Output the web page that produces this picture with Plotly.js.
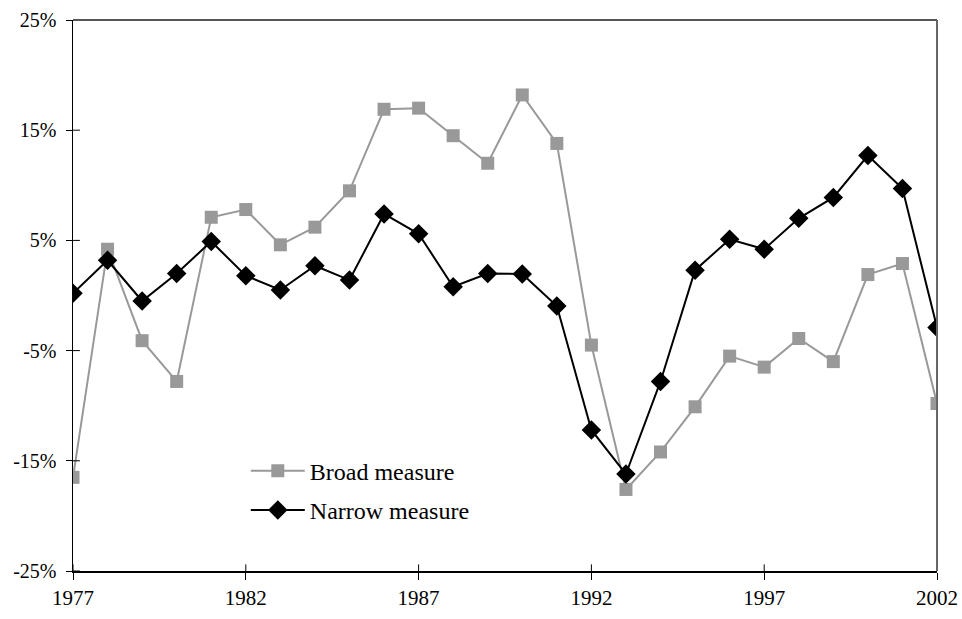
<!DOCTYPE html>
<html>
<head>
<meta charset="utf-8">
<script src="https://cdn.plot.ly/plotly-3.0.1.min.js"></script>
<style>html,body{margin:0;padding:0;background:#fff;}#chart{width:962px;height:619px;}</style>
</head>
<body>
<div id="chart"></div>
<script>
var years = [1977,1978,1979,1980,1981,1982,1983,1984,1985,1986,1987,1988,1989,1990,1991,1992,1993,1994,1995,1996,1997,1998,1999,2000,2001,2002];
var broadMeasure = [-16.5,4.2,-4.1,-7.8,7.1,7.8,4.6,6.2,9.5,16.9,17.0,14.5,12.0,18.2,13.8,-4.5,-17.6,-14.2,-10.1,-5.5,-6.5,-3.9,-6.0,1.9,2.9,-9.8];
var narrowMeasure = [0.2,3.2,-0.5,2.0,4.9,1.8,0.5,2.7,1.4,7.4,5.6,0.8,2.0,1.95,-0.95,-12.2,-16.2,-7.8,2.3,5.1,4.2,7.0,8.9,12.7,9.7,-2.9];
var yTickVals = [-25,-15,-5,5,15,25];
var yTickText = ['-25%','-15%','-5%','5%','15%','25%'];
var xTickVals = [1977,1982,1987,1992,1997,2002];

var serif = 'Liberation Serif, Times New Roman, serif';

var traces = [
  {x: years, y: broadMeasure, name: 'Broad measure', type: 'scatter', mode: 'lines+markers',
   legendgroup: 'a',
   line: {color: '#999999', width: 2}, marker: {symbol: 'square', size: 13, color: '#999999'}},
  {x: years, y: narrowMeasure, name: 'Narrow measure', type: 'scatter', mode: 'lines+markers',
   legendgroup: 'b',
   line: {color: '#000000', width: 2}, marker: {symbol: 'diamond', size: 15, color: '#000000'}}
];

// inner halves of the crossing tick marks, placed on the axis scales
var shapes = [];
xTickVals.forEach(function (v) {
  shapes.push({type: 'line', xref: 'x', yref: 'paper', x0: v, x1: v, y0: 0, y1: 0.012,
               line: {color: '#000', width: 1}});
});
yTickVals.forEach(function (v) {
  shapes.push({type: 'line', xref: 'paper', yref: 'y', x0: 0, x1: 0.008, y0: v, y1: v,
               line: {color: '#000', width: 1}});
});
shapes.push({type: 'line', xref: 'paper', yref: 'paper', x0: 0, x1: 1, y0: 1, y1: 1, line: {color: '#555', width: 2}});
shapes.push({type: 'line', xref: 'paper', yref: 'paper', x0: 1, x1: 1, y0: 0, y1: 1, line: {color: '#666', width: 2}});

var layout = {
  width: 962, height: 619,
  margin: {l: 73, r: 25, t: 20, b: 48},
  paper_bgcolor: '#ffffff', plot_bgcolor: '#ffffff',
  font: {family: serif, color: '#000', size: 20},
  showlegend: true,
  legend: {x: 0.2, y: 0.222, xanchor: 'left', yanchor: 'top', bgcolor: 'rgba(0,0,0,0)',
           font: {family: serif, size: 24}, traceorder: 'grouped', tracegroupgap: 5, itemwidth: 54},
  xaxis: {range: [1977, 2002], tickvals: xTickVals, ticks: 'outside', ticklen: 7, tickwidth: 1,
          tickcolor: '#000', showgrid: false, zeroline: false, showline: true, linecolor: '#000', linewidth: 1.5,
          tickfont: {family: serif, size: 21}},
  yaxis: {range: [-25, 25], tickvals: yTickVals, ticktext: yTickText.map(function (t) { return t + '\u00A0'; }),
          ticks: 'outside', ticklen: 6, tickwidth: 1,
          tickcolor: '#000', showgrid: false, zeroline: false, showline: true, linecolor: '#000', linewidth: 1.5,
          tickfont: {family: serif, size: 20}},
  shapes: shapes
};
Plotly.newPlot('chart', traces, layout, {displayModeBar: false, staticPlot: true});
</script>
</body>
</html>
